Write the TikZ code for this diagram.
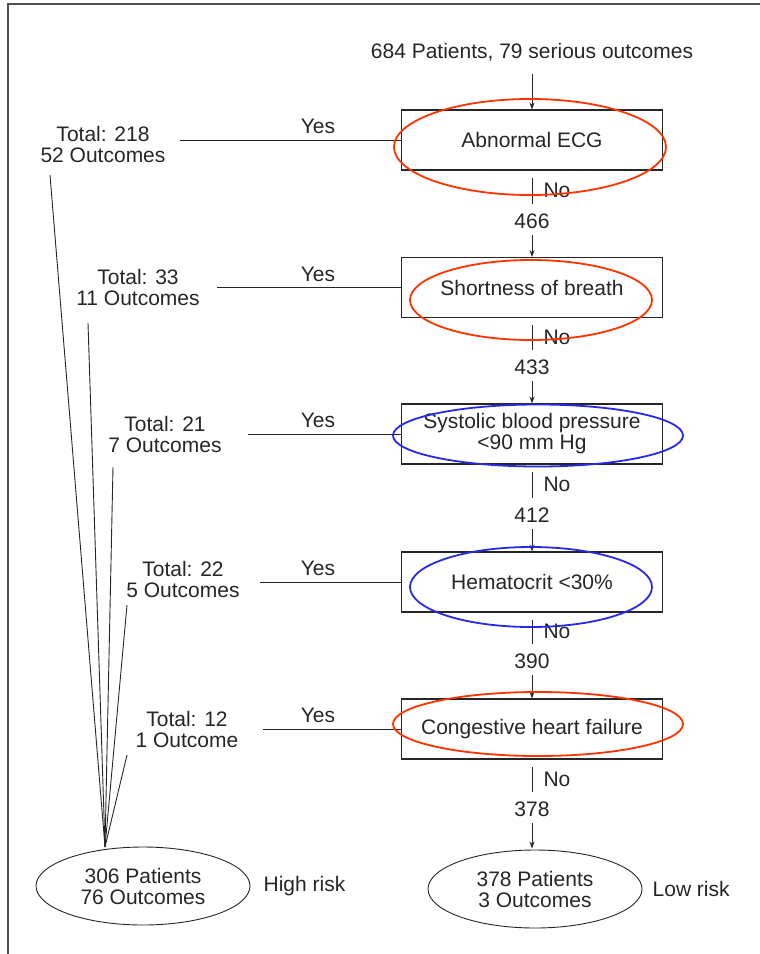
\documentclass[tikz,border=0pt]{standalone}
\usepackage{fontspec}
\setmainfont{Liberation Sans}
\usetikzlibrary{arrows.meta,shapes.geometric}
\definecolor{ink}{HTML}{262626}
\definecolor{redmark}{RGB}{255,51,0}
\definecolor{bluemark}{RGB}{40,40,230}
\definecolor{framegray}{HTML}{505050}
\tikzset{
  txt/.style={font=\fontsize{21}{21}\selectfont, text=ink, inner sep=3pt, align=center},
  qbox/.style={txt, draw=ink, line width=1.1pt, rectangle, minimum width=261pt, minimum height=60pt},
  endell/.style={txt, draw=ink, line width=0.9pt, ellipse, minimum width=214pt, minimum height=78pt, inner sep=0pt},
  conn/.style={draw=ink, line width=1pt},
  arr/.style={conn, -{Stealth[length=7pt,width=5pt]}},
  fan/.style={draw=ink, line width=0.9pt},
  markred/.style={draw=redmark, line width=1.8pt, ellipse, inner sep=0pt},
  markblue/.style={draw=bluemark, line width=1.8pt, ellipse, inner sep=0pt},
  nolab/.style={txt, anchor=west, xshift=8pt},
}
\begin{document}
\begin{tikzpicture}[x=1pt,y=-1pt]
\useasboundingbox (0,0) rectangle (760,954);
% frame
\draw[framegray, line width=1.4pt] (8,954) -- (8,4) -- (760,4);

% top
\node[txt] (top) at (532,52) {684 Patients, 79 serious outcomes};

% question boxes
\node[qbox] (b1) at (532,140) {Abnormal ECG};
\node[qbox] (b2) at (532,287.5) {Shortness of breath};
\node[qbox] (b3) at (532,434) {Systolic blood pressure\\<90 mm Hg};
\node[qbox] (b4) at (532,582) {Hematocrit <30\%};
\node[qbox] (b5) at (532,729) {Congestive heart failure};

% counts
\node[txt] (n1) at (532,221) {466};
\node[txt] (n2) at (532,367) {433};
\node[txt] (n3) at (532,515) {412};
\node[txt] (n4) at (532,661) {390};
\node[txt] (n5) at (532,809) {378};

% end ellipses
\node[endell] (hr) at (143,886) {306 Patients\\76 Outcomes};
\node[endell] (lr) at (535,889) {378 Patients\\3 Outcomes};
\node[txt, anchor=west, xshift=10pt] (hrl) at (hr.east) {High risk};
\node[txt, anchor=west, xshift=7pt] (lrl) at (lr.east) {Low risk};

% top arrow
\draw[arr, shorten <=10pt] (top.south) -- (b1.north);

% No branches
\draw[conn, shorten <=7pt, shorten >=6pt] (b1.south) -- node[nolab]{No} (n1.north);
\draw[arr, shorten <=3pt] (n1.south) -- (b2.north);
\draw[conn, shorten <=7pt, shorten >=6pt] (b2.south) -- node[nolab]{No} (n2.north);
\draw[arr, shorten <=3pt] (n2.south) -- (b3.north);
\draw[conn, shorten <=7pt, shorten >=6pt] (b3.south) -- node[nolab]{No} (n3.north);
\draw[arr, shorten <=3pt] (n3.south) -- (b4.north);
\draw[conn, shorten <=7pt, shorten >=6pt] (b4.south) -- node[nolab]{No} (n4.north);
\draw[arr, shorten <=3pt] (n4.south) -- (b5.north);
\draw[conn, shorten <=7pt, shorten >=6pt] (b5.south) -- node[nolab]{No} (n5.north);
\draw[arr, shorten <=3pt, shorten >=1pt] (n5.south) -- (n5.south |- lr.north);

% totals
\node[txt] (t1) at (103,144) {Total: 218\\52 Outcomes};
\node[txt] (t2) at (138,287) {Total: 33\\11 Outcomes};
\node[txt] (t3) at (165,434.5) {Total: 21\\7 Outcomes};
\node[txt] (t4) at (183,579) {Total: 22\\5 Outcomes};
\node[txt] (t5) at (187,729) {Total: 12\\1 Outcome};

% Yes lines
\coordinate (y1) at (180,140);
\coordinate (y2) at (217,287.5);
\coordinate (y3) at (248,434);
\coordinate (y4) at (260,582);
\coordinate (y5) at (263,729);
\draw[conn] (y1) -- (b1.west);
\draw[conn] (y2) -- (b2.west);
\draw[conn] (y3) -- (b3.west);
\draw[conn] (y4) -- (b4.west);
\draw[conn] (y5) -- (b5.west);
\node[txt, anchor=south] (yes1) at (318,137) {Yes};
\node[txt, anchor=south] (yes2) at (318,284.5) {Yes};
\node[txt, anchor=south] (yes3) at (318,431) {Yes};
\node[txt, anchor=south] (yes4) at (318,579) {Yes};
\node[txt, anchor=south] (yes5) at (318,726) {Yes};

% fan lines to high risk
\coordinate (hub) at (105,847);
\coordinate (f1) at (50,175);
\coordinate (f2) at (88,323);
\coordinate (f3) at (113,467);
\coordinate (f4) at (127,605);
\coordinate (f5) at (127,755);
\draw[fan] (f1) -- (hub);
\draw[fan] (f2) -- (hub);
\draw[fan] (f3) -- (hub);
\draw[fan] (f4) -- (hub);
\draw[fan] (f5) -- (hub);

% highlight ellipses
\node[markred, minimum width=272pt, minimum height=96pt] (e1) at (530,147) {};
\node[markred, minimum width=242pt, minimum height=80pt] (e2) at (531,300) {};
\node[markblue, minimum width=290pt, minimum height=62pt] (e3) at (538,435.5) {};
\node[markblue, minimum width=242pt, minimum height=80pt] (e4) at (531,587) {};
\node[markred, minimum width=290pt, minimum height=64pt] (e5) at (538,724) {};
\end{tikzpicture}
\end{document}
